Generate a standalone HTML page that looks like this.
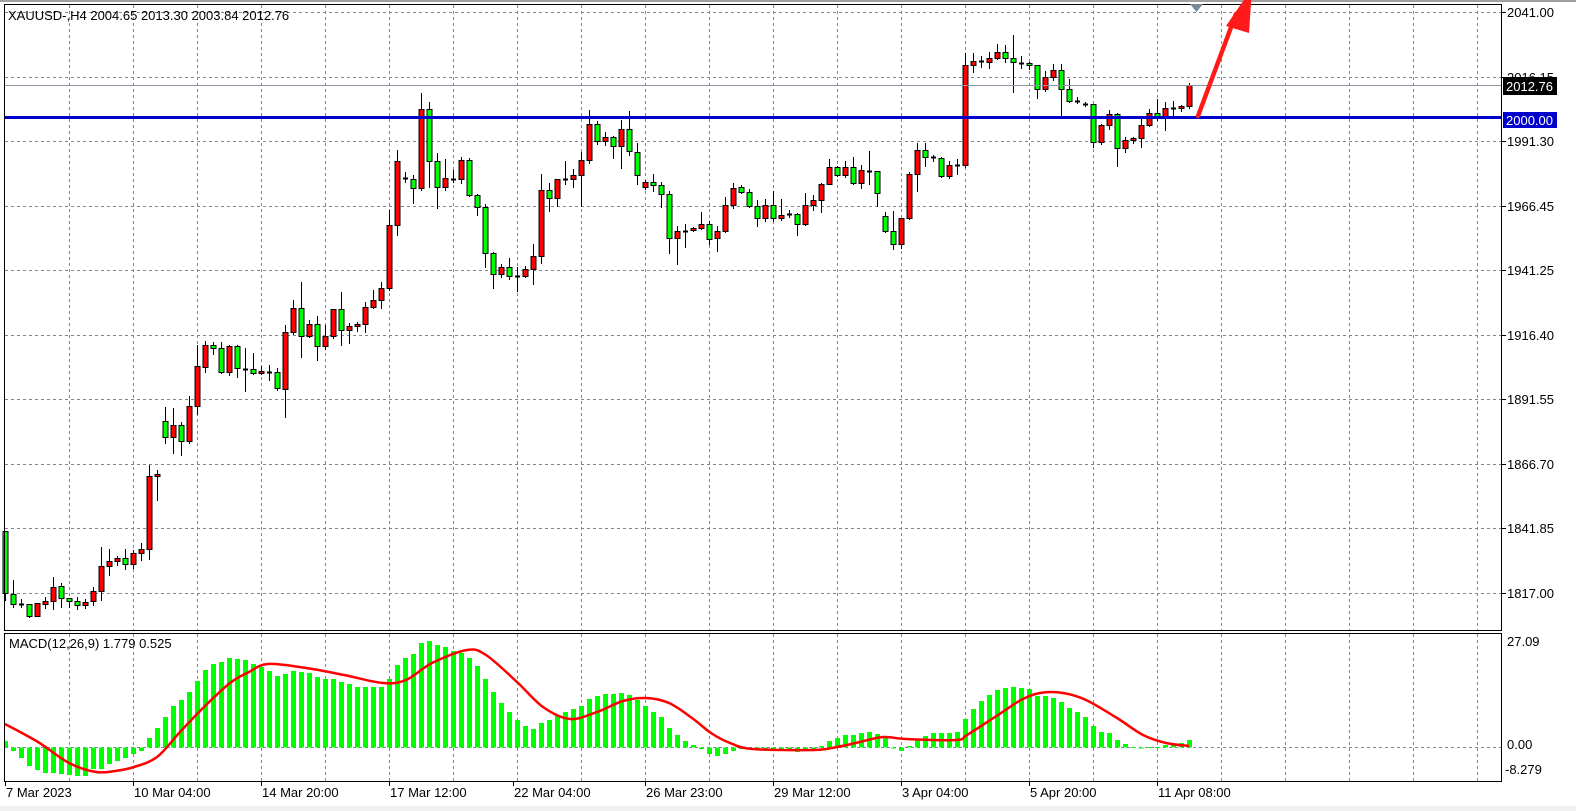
<!DOCTYPE html>
<html><head><meta charset="utf-8"><style>
html,body{margin:0;padding:0;background:#fff;}
svg{display:block;font-family:"Liberation Sans",sans-serif;}
</style></head><body>
<svg id="c" width="1576" height="811" xmlns="http://www.w3.org/2000/svg">
<rect x="0" y="0" width="1576" height="811" fill="#fff"/>
<rect x="0" y="806" width="1576" height="5" fill="#f0f0f0"/>
<line x1="0" y1="1" x2="1576" y2="1" stroke="#a0a0a0" stroke-width="2"/>
<g id="grid" stroke="#778899" stroke-width="1" stroke-dasharray="3,3" fill="none"></g>
<g id="hist" fill="#00ff00"></g>
<g id="cand"></g>
<line x1="4" y1="85.5" x2="1502" y2="85.5" stroke="#8a96a3" stroke-width="1"/>
<line x1="4" y1="117.5" x2="1502" y2="117.5" stroke="#0000cc" stroke-width="3"/>
<path id="sig" fill="none" stroke="#ff0000" stroke-width="2.5" stroke-linejoin="round"/>
<rect x="4.5" y="4.5" width="1497" height="626" fill="none" stroke="#000" stroke-width="1"/>
<rect x="4.5" y="633.5" width="1497" height="148" fill="none" stroke="#000" stroke-width="1"/>
<line x1="1198" y1="116" x2="1236" y2="14" stroke="#ff1a1a" stroke-width="4.5" stroke-linecap="round"/>
<polygon points="1226,26 1249,33 1252,-12" fill="#ff1a1a"/>
<polygon points="1190,4 1203,4 1196.5,12" fill="#778899"/>
<text x="8" y="20" font-size="13" fill="#000">XAUUSD-,H4  2004.65 2013.30 2003.84 2012.76</text>
<text x="9" y="648" font-size="13" fill="#000">MACD(12,26,9) 1.779 0.525</text>
<g id="axis" font-size="13" fill="#000"></g>
<rect x="1503" y="77" width="54" height="18" fill="#000"/>
<text x="1506" y="91" font-size="13" fill="#fff">2012.76</text>
<rect x="1503" y="112" width="54" height="16" fill="#0000cc"/>
<text x="1506" y="125" font-size="13" fill="#fff">2000.00</text>
</svg>
<script>
var NS="http://www.w3.org/2000/svg";
function el(p,t,a,txt){var e=document.createElementNS(NS,t);for(var k in a)e.setAttribute(k,a[k]);if(txt!==undefined)e.textContent=txt;document.getElementById(p).appendChild(e);return e;}
var hy=[12,77,141,206,270,335,399,464,528,593];
hy.forEach(function(y){el("grid","line",{x1:5,y1:y+.5,x2:1502,y2:y+.5});});
el("grid","line",{x1:5,y1:747.5,x2:1502,y2:747.5});
for(var x=69;x<1502;x+=64){el("grid","line",{x1:x+.5,y1:5,x2:x+.5,y2:630});el("grid","line",{x1:x+.5,y1:634,x2:x+.5,y2:781});}
var lab=["2041.00","2016.15","1991.30","1966.45","1941.25","1916.40","1891.55","1866.70","1841.85","1817.00"];
hy.forEach(function(y,i){el("axis","text",{x:1507,y:y+5},lab[i]);el("axis","line",{x1:1502,y1:y+.5,x2:1506,y2:y+.5,stroke:"#000"});});
el("axis","text",{x:1507,y:646},"27.09");
el("axis","text",{x:1507,y:749},"0.00");
el("axis","text",{x:1505,y:774},"-8.279");
var tl=[[5,"7 Mar 2023"],[133,"10 Mar 04:00"],[261,"14 Mar 20:00"],[389,"17 Mar 12:00"],[513,"22 Mar 04:00"],[645,"26 Mar 23:00"],[773,"29 Mar 12:00"],[901,"3 Apr 04:00"],[1029,"5 Apr 20:00"],[1157,"11 Apr 08:00"]];
tl.forEach(function(t){el("axis","text",{x:t[0]+1,y:797},t[1]);el("axis","line",{x1:t[0]+.5,y1:782,x2:t[0]+.5,y2:786,stroke:"#000"});});
var C=`g 531 593 531 600
g 594 604 580 607
d 604 604 599 607
g 604 616 604 617
r 603 616 603 616
r 601 604 597 608
r 587 601 577 609
g 586 598 583 607
g 598 601 598 607
g 601 605 597 609
r 602 605 599 608
r 591 601 587 605
r 566 591 547 600
r 561 566 549 575
r 558 561 556 565
g 558 564 549 569
r 553 564 550 568
r 549 553 543 560
r 476 549 465 559
r 474 476 470 500
g 421 437 407 443
r 425 437 408 453
g 425 441 422 455
r 406 441 396 443
r 366 406 345 414
r 345 367 341 372
g 345 348 342 354
g 348 372 342 373
r 346 372 345 375
g 346 368 345 377
d 369 369 348 391
g 369 373 353 374
r 371 373 366 374
d 372 372 365 380
g 372 388 368 390
r 332 389 325 417
r 308 332 300 334
g 308 336 282 357
r 324 336 320 337
g 324 346 316 360
r 336 346 325 349
r 309 336 309 338
g 309 330 292 345
r 326 330 323 343
r 324 326 322 331
r 307 324 302 332
r 300 307 290 308
r 288 300 282 308
r 225 288 210 290
r 161 225 150 235
d 178 178 172 182
g 179 188 175 203
r 109 188 93 190
g 109 161 102 187
g 161 187 153 208
r 178 187 159 190
d 179 179 170 182
r 160 179 157 183
g 160 195 158 196
g 195 207 194 215
g 207 253 204 267
g 253 274 252 288
r 267 274 264 277
g 267 276 258 279
d 276 276 267 291
r 269 276 266 277
r 256 269 244 284
r 190 256 174 263
g 190 198 183 211
r 179 198 179 206
d 179 179 161 184
r 175 179 169 187
r 160 175 152 206
r 124 160 110 163
g 124 141 121 144
r 137 141 132 145
g 137 146 136 158
r 129 146 120 168
g 129 151 111 155
g 152 175 143 184
r 182 187 180 189
g 182 185 174 191
g 185 194 182 207
g 194 238 191 253
r 231 238 226 264
d 231 231 224 247
r 228 230 227 231
r 224 228 212 229
g 224 239 221 244
r 231 238 226 251
r 205 231 197 232
r 188 205 183 208
g 187 192 185 193
g 192 206 189 207
g 206 218 200 226
r 205 218 199 221
g 205 218 191 221
r 215 218 199 220
d 214 214 210 217
g 214 224 213 235
r 205 224 193 225
r 200 205 195 210
r 184 200 183 212
r 167 184 159 184
g 167 175 166 176
r 167 175 161 177
g 167 183 157 184
r 170 183 165 188
d 171 171 151 184
g 171 193 171 206
g 216 231 212 232
g 231 244 211 249
r 218 244 218 248
r 174 218 172 219
r 150 174 143 191
g 150 157 143 166
d 157 157 155 161
g 158 176 157 177
r 165 176 161 178
d 165 165 159 174
r 65 165 53 167
r 61 65 53 72
d 61 61 56 67
r 58 62 52 68
r 52 58 44 59
g 52 58 45 62
g 58 62 35 92
d 63 63 56 68
g 63 65 62 69
g 65 89 65 98
r 77 89 71 91
r 70 77 64 80
g 70 89 64 117
g 89 101 79 102
d 101 101 97 103
d 104 104 102 106
g 104 142 104 147
r 125 142 124 144
r 114 125 110 129
g 114 148 113 166
r 140 148 137 152
r 138 140 137 143
r 125 138 117 147
r 113 125 109 126
g 113 118 99 120
r 108 118 102 130
d 108 108 101 115
r 106 108 105 111
r 85 106 83 108`.split("\n");
C.forEach(function(l,i){var a=l.trim().split(/\s+/);var t=a[0],bt=+a[1],bb=+a[2],h=+a[3],lo=+a[4];var x=5+8*i;
 el("cand","line",{x1:x+.5,y1:h,x2:x+.5,y2:lo+1,stroke:"#000","stroke-width":1});
 if(t=="d"){el("cand","line",{x1:x-2,y1:bt+.5,x2:x+3,y2:bt+.5,stroke:"#000","stroke-width":2});}
 else{var hh=Math.max(bb-bt,2);el("cand","rect",{x:x-2,y:bt+.5,width:5,height:hh,fill:t=="r"?"#ff0000":"#00ff00",stroke:"#000","stroke-width":1});}
});
var H=[741,751,758,766,770,773,773,774,775,776,776,769,769,764,761,758,754,751,738,728,717,706,700,692,681,670,664,662,658,659,660,664,667,671,676,674,671,672,673,677,679,679,682,684,687,687,687,687,679,665,658,654,643,641,645,647,651,653,658,666,679,692,703,712,720,726,729,723,720,715,712,709,706,699,696,694,694,693,695,700,706,712,717,728,735,741,745,749,754,756,754,751,749,749,749,751,751,751,751,752,751,749,746,741,738,735,735,733,732,734,738,748,751,746,740,736,733,733,733,732,719,709,701,695,690,688,687,688,689,696,696,698,702,708,712,717,726,732,733,740,744,747,748,747,747,745,744,743,740];
var Z=747.5;
H.forEach(function(v,i){var x=5+8*i-2;var y=Math.min(v,Z),h=Math.abs(v-Z);if(h<1)h=1;if(i==0){x=5;}el("hist","rect",{x:x,y:y,width:(i==0?3:5),height:h});});
var S=[[5,724],[38,742],[69,763],[96,772],[115,771],[134,767],[157,757],[180,732],[203,708],[230,683],[249,672],[268,664],[306,668],[344,675],[383,683],[406,680],[432,663],[467,650],[486,655],[517,682],[543,707],[570,719],[597,712],[623,701],[646,698],[669,703],[692,718],[711,733],[730,743],[753,749],[814,750],[837,747],[860,742],[883,737],[906,739],[956,740],[967,735],[998,715],[1021,700],[1040,693],[1063,693],[1086,700],[1117,718],[1143,735],[1166,743],[1189,746]];
// Catmull-Rom smoothing
var d="M"+S[0][0]+","+S[0][1];
for(var i=0;i<S.length-1;i++){var p0=S[i-1]||S[i],p1=S[i],p2=S[i+1],p3=S[i+2]||p2;
 var c1x=p1[0]+(p2[0]-p0[0])/6,c1y=p1[1]+(p2[1]-p0[1])/6,c2x=p2[0]-(p3[0]-p1[0])/6,c2y=p2[1]-(p3[1]-p1[1])/6;
 d+=" C"+c1x.toFixed(1)+","+c1y.toFixed(1)+" "+c2x.toFixed(1)+","+c2y.toFixed(1)+" "+p2[0]+","+p2[1];}
document.getElementById("sig").setAttribute("d",d);
</script>
</body></html>
